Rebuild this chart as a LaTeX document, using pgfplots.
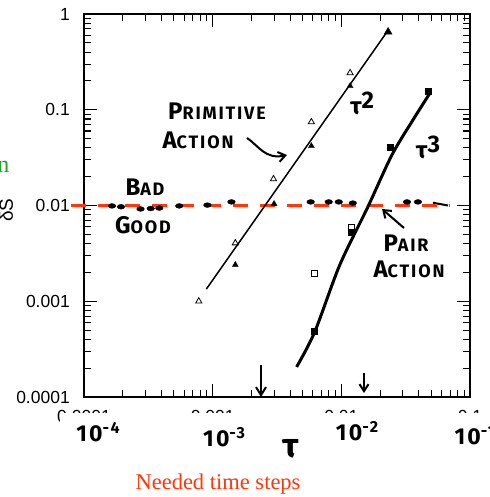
\documentclass[border=0pt]{standalone}
\usepackage{pgfplots}
\pgfplotsset{compat=1.18}
\usepackage{fontspec}
\setmainfont{Liberation Serif}
\newfontfamily\tickfont{Liberation Sans}
\newfontfamily\hand{Fira Sans}[LetterSpace=10]
\usetikzlibrary{arrows.meta}
\definecolor{dashred}{RGB}{255,55,10}
\definecolor{notegreen}{RGB}{40,160,40}
% hand-lettered caps: larger first letter, smaller rest
\newcommand{\caps}[2]{{\hand\bfseries\fontsize{24}{24}\selectfont #1}{\hand\bfseries\fontsize{18}{18}\selectfont #2}}
\newcommand{\decade}[1]{{\hand\bfseries\fontsize{23}{23}\selectfont 10\raisebox{8pt}{\fontsize{16}{16}\selectfont -#1}}}

\begin{document}
\begin{tikzpicture}[x=1pt,y=1pt]
\clip (0pt,0pt) rectangle (489pt,497pt);
\begin{axis}[
  at={(84pt,100pt)}, anchor=south west, scale only axis,
  width=386pt, height=383pt,
  xmode=log, ymode=log,
  xmin=1e-4, xmax=0.1, ymin=1e-4, ymax=1,
  xtick={1e-4,1e-3,1e-2,1e-1}, xticklabels={0.0001,0.001,0.01,0.1},
  ytick={1e-4,1e-3,1e-2,1e-1,1}, yticklabels={0.0001,0.001,0.01,0.1,1},
  minor xtick={2e-4,3e-4,4e-4,5e-4,6e-4,7e-4,8e-4,9e-4,
               2e-3,3e-3,4e-3,5e-3,6e-3,7e-3,8e-3,9e-3,
               2e-2,3e-2,4e-2,5e-2,6e-2,7e-2,8e-2,9e-2},
  minor ytick={2e-4,3e-4,4e-4,5e-4,6e-4,7e-4,8e-4,9e-4,
               2e-3,3e-3,4e-3,5e-3,6e-3,7e-3,8e-3,9e-3,
               2e-2,3e-2,4e-2,5e-2,6e-2,7e-2,8e-2,9e-2,
               0.2,0.3,0.4,0.5,0.6,0.7,0.8,0.9},
  tick align=inside, major tick length=13pt, minor tick length=7pt,
  every tick/.style={black, line width=1.1pt},
  axis line style={line width=1.4pt},
  ticklabel style={font=\tickfont\fontsize{17.5}{17.5}\selectfont},
  xticklabel style={anchor=north, inner sep=0pt, yshift=-13pt},
  yticklabel style={anchor=east, inner sep=0pt, xshift=-14pt},
  clip=false]

% scattered dots along the 0.01 level
\addplot[only marks, mark=*, mark size=2.4pt, mark options={xscale=1.6, fill=black, draw=black}]
  coordinates {(1.65e-4,0.0099) (1.94e-4,0.0097) (2.75e-4,0.0092) (3.3e-4,0.0093)
               (3.85e-4,0.0094) (5.5e-4,0.0099) (9.1e-4,0.0101) (1.40e-3,0.0109)
               (5.78e-3,0.0109) (7.98e-3,0.0109) (9.55e-3,0.0109) (0.01227,0.0106)
               (0.0324,0.0109) (0.0394,0.0109)};
\addplot[black, line width=2pt] coordinates {(0.0515,0.0107) (0.0674,0.0100)};

% threshold level
\addplot[dashred, line width=3.5pt, dash pattern=on 15pt off 12pt]
  coordinates {(7.9e-5,0.01) (0.07,0.01)};

% primitive action fit
\addplot[black, line width=1.5pt] coordinates {(8.93e-4,1.34e-3) (0.0226,0.648)};
% pair action fit
\addplot[black, line width=3pt, smooth, tension=0.5] coordinates {
  (4.49e-3,2.06e-4) (6.21e-3,4.78e-4) (9.72e-3,2.39e-3)
  (0.01606,9.64e-3) (0.0247,0.0336)
  (0.0360,0.0781) (0.0489,0.1496)};

% primitive action data
\addplot[only marks, mark=triangle, mark size=3.6pt, mark options={black, line width=0.8pt}]
  coordinates {(7.8e-4,1.0e-3) (1.5e-3,4.05e-3) (2.97e-3,0.0189) (5.85e-3,0.0745) (0.0117,0.242)};
\addplot[only marks, mark=triangle*, mark size=3.4pt, mark options={black, fill=black}]
  coordinates {(1.5e-3,2.4e-3) (3.0e-3,0.0104) (5.85e-3,0.0418) (0.0117,0.177)};
\addplot[only marks, mark=triangle*, mark size=4.5pt, mark options={black, fill=black}]
  coordinates {(0.0231,0.65)};

% pair action data
\addplot[only marks, mark=square*, mark size=3pt, mark options={black, fill=black}]
  coordinates {(0.0472,0.157) (0.024,0.0408) (0.012,0.0052) (0.00618,4.9e-4)};
\addplot[only marks, mark=square, mark size=3pt, mark options={black, fill=white, line width=0.8pt}]
  coordinates {(0.012,0.00597) (0.00618,0.00197)};
\end{axis}

% lower part of the tick labels is hidden
\fill[white] (60pt,0pt) rectangle (489pt,84pt);

% axis titles
\node[rotate=90, anchor=base, font=\tickfont\fontsize{19}{19}\selectfont] at (13pt,287pt) {δS};
\node[anchor=base east, text=notegreen, font=\fontsize{24}{24}\selectfont] at (13pt,324pt) {Error in action};
\node[anchor=base, text=dashred, font=\fontsize{22.5}{22.5}\selectfont] at (218pt,7pt) {Needed time steps};

% hand-written notes
\node at (217pt,386pt) {\caps{P}{RIMITIVE}};
\node at (198pt,357pt) {\caps{A}{CTION}};
\node at (145pt,310pt) {\caps{B}{AD}};
\node at (143pt,272pt) {\caps{G}{OOD}};
\node at (406pt,254pt) {\caps{P}{AIR}};
\node at (409pt,228pt) {\caps{A}{CTION}};
\node at (362pt,394pt) {{\hand\bfseries\fontsize{24}{24}\selectfont τ\raisebox{6pt}{2}}};
\node at (428pt,350pt) {{\hand\bfseries\fontsize{24}{24}\selectfont τ\raisebox{6pt}{3}}};
\node at (291pt,48pt) {{\hand\bfseries\fontsize{34}{34}\selectfont τ}};
\node at (98pt,65pt) {\decade{4}};
\node at (224pt,60pt) {\decade{3}};
\node at (357pt,66pt) {\decade{2}};
\node[anchor=west] at (451pt,62pt) {\decade{1}};

\draw[line width=2pt, -{Straight Barb[length=7pt, width=10pt]}]
  (247pt,359pt) .. controls (258pt,352pt) and (265pt,337pt) .. (287pt,342pt);
\draw[line width=2pt, -{Straight Barb[length=7pt, width=10pt]}] (404pt,269pt) -- (382pt,288pt);
\draw[line width=2pt, -{Straight Barb[length=8pt, width=10pt]}] (261pt,132pt) -- (261pt,100pt);
\draw[line width=2pt, -{Straight Barb[length=7pt, width=9pt]}] (364pt,124pt) -- (364pt,104pt);
\end{tikzpicture}
\end{document}
